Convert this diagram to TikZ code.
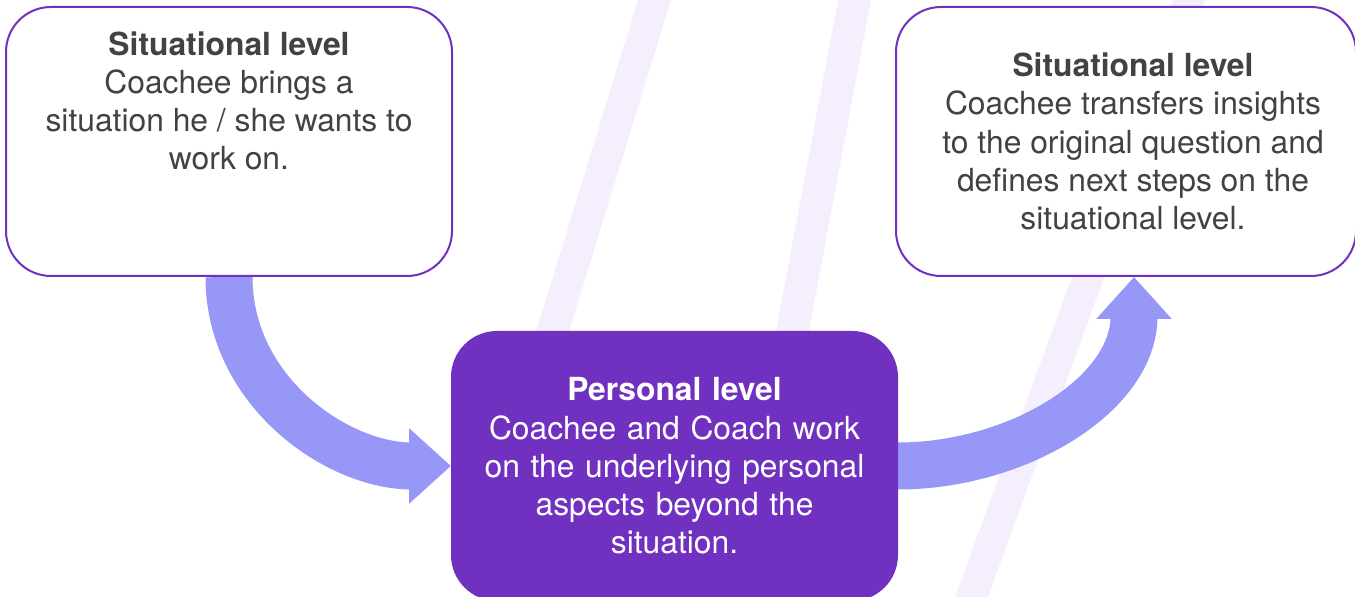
\documentclass[tikz,border=0pt]{standalone}
\usepackage{fontspec}
\setmainfont{TeX Gyre Heros}
\usepackage{tikz}
\usetikzlibrary{arrows.meta,backgrounds,calc}

\definecolor{levpurple}{HTML}{7030C0}
\definecolor{flowblue}{HTML}{9797F8}
\definecolor{stripelav}{HTML}{F5EFFD}
\definecolor{txtgrey}{HTML}{424242}

\tikzset{
  levelbox/.style={draw=levpurple, line width=1pt, fill=white, rounded corners=22.5pt,
    text=txtgrey, align=center, inner sep=0pt,
    font=\fontsize{15.9pt}{19.1pt}\selectfont},
  perbox/.style={levelbox, fill=levpurple, text=white},
  flow/.style={draw=flowblue, line width=23.5pt,
    -{Triangle[length=21pt,width=36.5pt]}},
  stripe/.style={fill=stripelav, draw=none}
}

\begin{document}
\begin{tikzpicture}[x=0.5pt,y=0.5pt]
\useasboundingbox (0,0) rectangle (1355,597);

%% levels
\node [levelbox, minimum width=223pt, minimum height=134.5pt] (sit1) at (229,455.5)
  {\parbox[c][110pt][t]{220pt}{\centering\textbf{Situational level}\\
   Coachee brings a\\ situation he / she wants to\\ work on.}};
\node [levelbox, minimum width=230pt, minimum height=134.5pt] (sit2) at (1126,455.5)
  {\hspace*{7pt}\parbox{218pt}{\centering\textbf{Situational level}\\ Coachee transfers insights\\
   to the original question and\\ defines next steps on the\\ situational level.}};
\node [perbox, minimum width=222.5pt, minimum height=134pt, text width=214pt] (pers) at (674.5,131)
  {\textbf{Personal level}\\ Coachee and Coach work\\ on the underlying personal\\
   aspects beyond the\\ situation.};

\coordinate (back) at ($(sit2.south)+(8,0)$);

\begin{scope}[on background layer]
%% stripes
\fill [stripe] (638,597) -- (671,597) -- (548,197) -- (515,197) -- cycle;
\fill [stripe] (838,597) -- (871,597) -- (796,197) -- (763,197) -- cycle;
\fill [stripe] (1173,597) -- (1205,597) -- (988,0) -- (955,0) -- cycle;
%% flow
\draw [flow] (sit1.south) to[out=-90,in=180] (pers.west);
\draw [flow] (pers.east) to[out=0,in=-90] (back);
\end{scope}

\end{tikzpicture}
\end{document}
